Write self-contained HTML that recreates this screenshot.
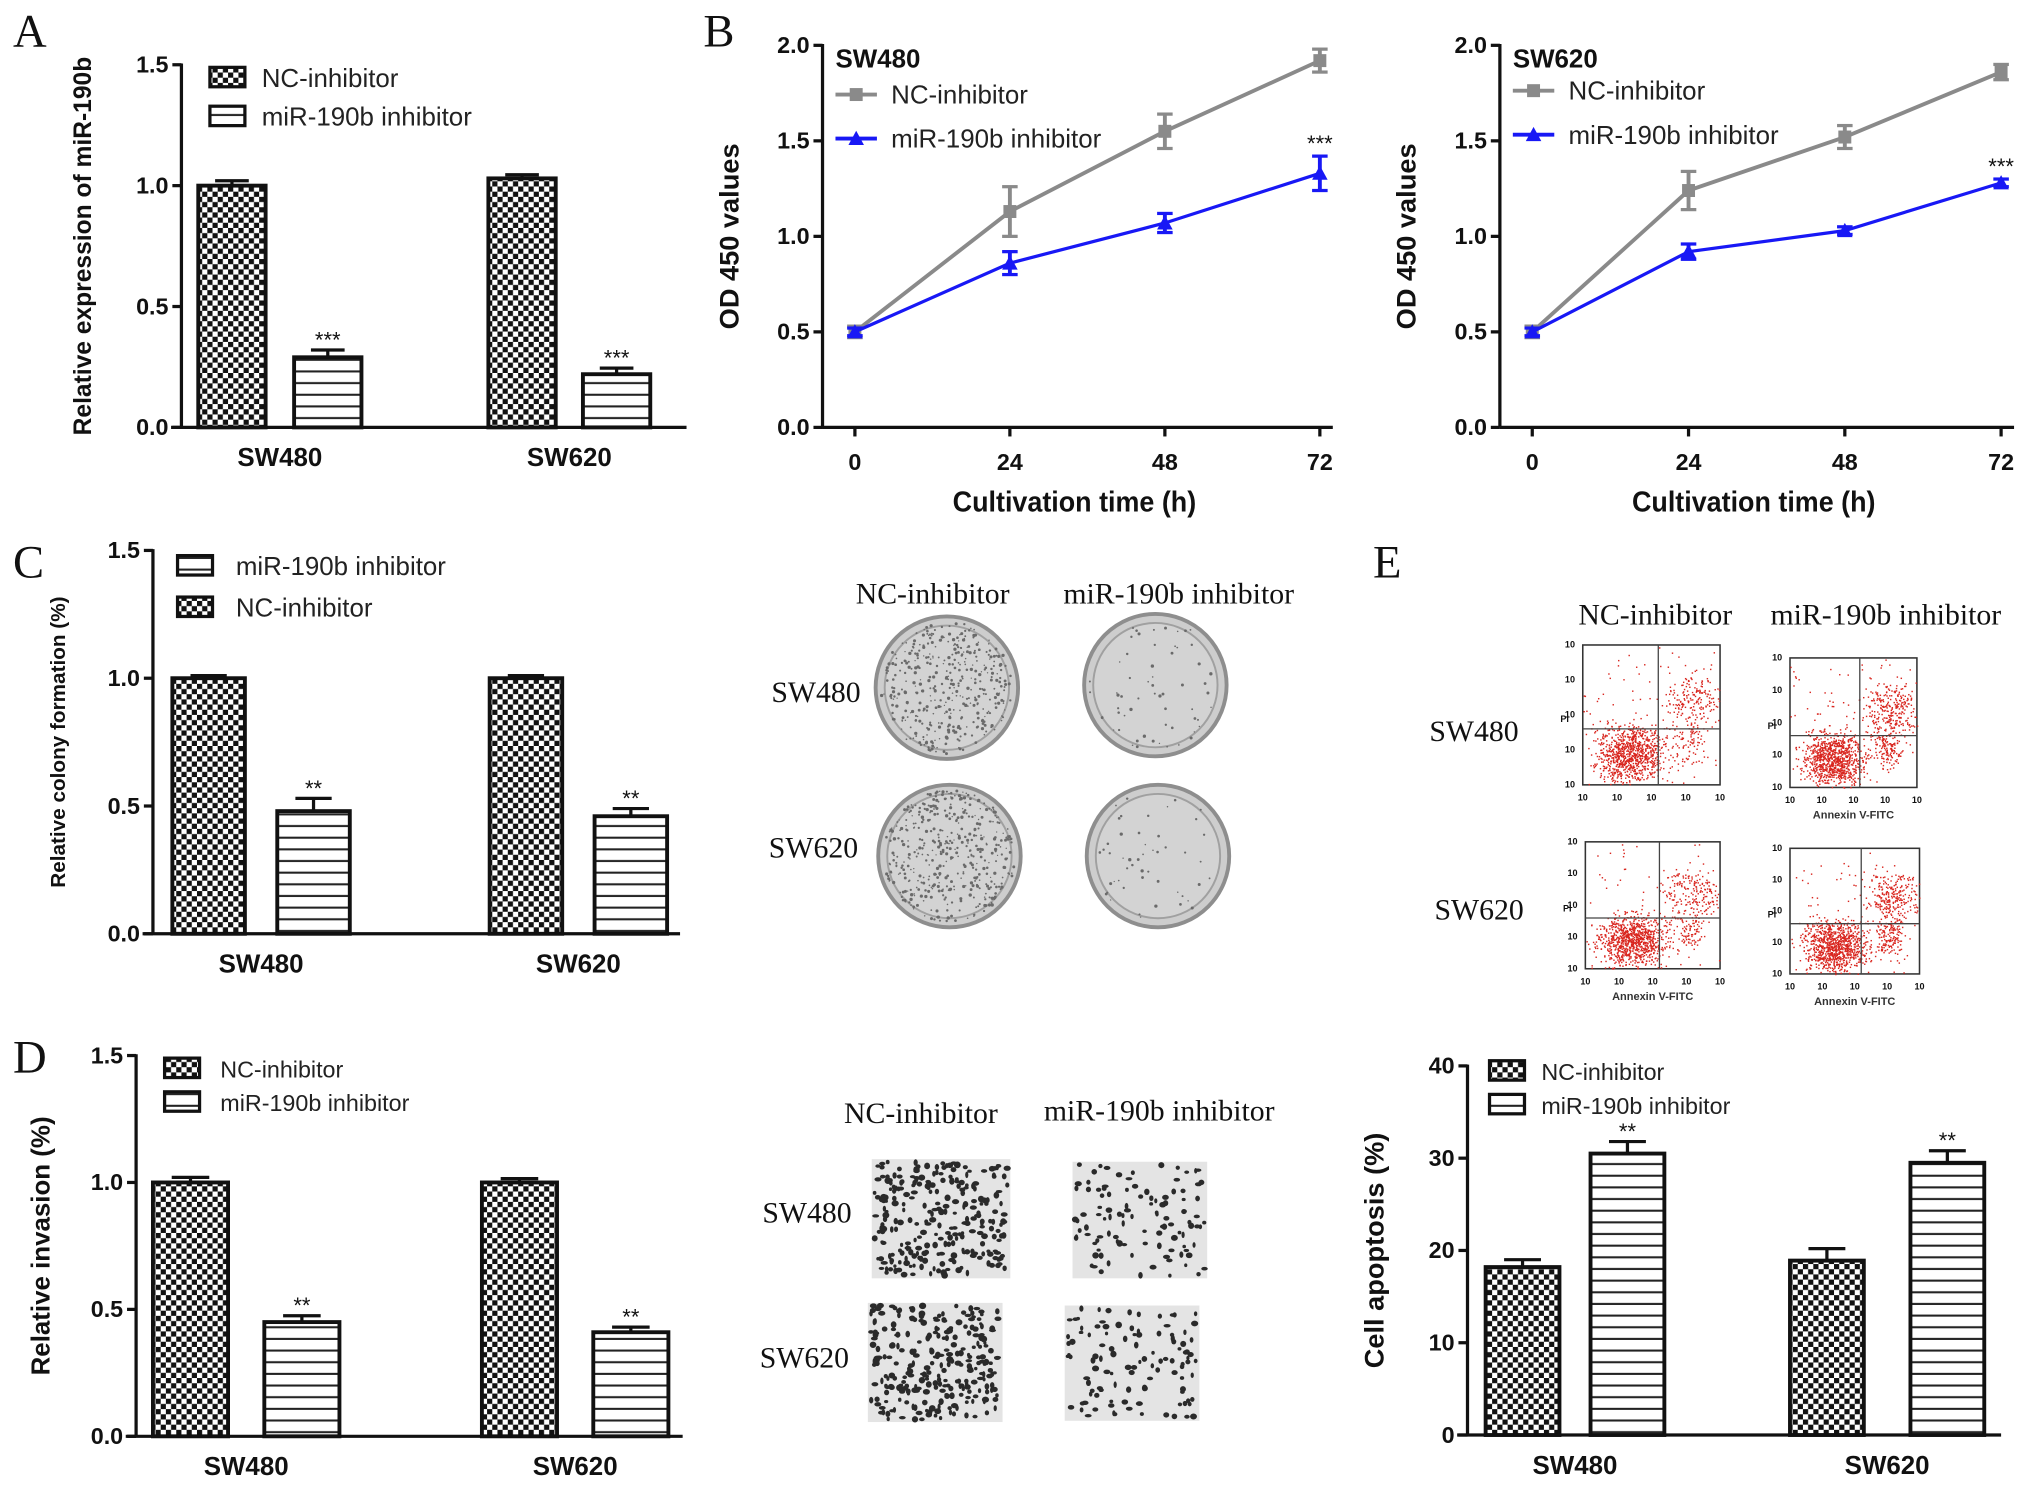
<!DOCTYPE html>
<html><head><meta charset="utf-8"><style>
html,body{margin:0;padding:0;background:#fff}
svg{display:block}
text{font-family:"Liberation Sans",sans-serif}
.serif{font-family:"Liberation Serif",serif}
</style></head><body>
<svg id="fig" width="2031" height="1492" viewBox="0 0 1568 1152" xmlns="http://www.w3.org/2000/svg">
<defs>
<pattern id="chk" width="8" height="8" patternUnits="userSpaceOnUse"><rect width="8" height="8" fill="#fff"/><rect width="4" height="4" fill="#111"/><rect x="4" y="4" width="4" height="4" fill="#111"/></pattern>
<pattern id="str" width="8" height="9" patternUnits="userSpaceOnUse"><rect width="8" height="9" fill="#fff"/><rect y="7" width="8" height="1.6" fill="#222"/></pattern>
</defs>
</svg>
<script>
// ---------- data ----------
const groups = ["SW480","SW620"];
const aNC = [1.0, 1.03], aNCerr = [0.02, 0.015];
const aMiR = [0.29, 0.22], aMiRerr = [0.03, 0.025];
const aTicks = [0, 0.5, 1.0, 1.5];
const timePts = [0, 24, 48, 72];
const timeTicks = [0, 24, 48, 72];
const odTicks = [0, 0.5, 1.0, 1.5, 2.0];
const b480NC = [0.5, 1.13, 1.55, 1.92], b480NCerr = [0.03, 0.13, 0.09, 0.06];
const b480Mi = [0.5, 0.86, 1.07, 1.33], b480MiErr = [0.02, 0.06, 0.05, 0.09];
const b620NC = [0.5, 1.24, 1.52, 1.86], b620NCerr = [0.03, 0.1, 0.06, 0.04];
const b620Mi = [0.5, 0.92, 1.03, 1.28], b620MiErr = [0.02, 0.04, 0.02, 0.02];
const cNC = [1.0, 1.0], cNCerr = [0.01, 0.01];
const cMiR = [0.48, 0.46], cMiRerr = [0.05, 0.03];
const dNC = [1.0, 1.0], dNCerr = [0.02, 0.015];
const dMiR = [0.45, 0.41], dMiRerr = [0.025, 0.02];
const eNC = [18.2, 18.9], eNCerr = [0.8, 1.3];
const eMiR = [30.5, 29.5], eMiRerr = [1.3, 1.3];
const eTicks = [0, 10, 20, 30, 40];

const NS = "http://www.w3.org/2000/svg";
const svg = document.getElementById("fig");
function mk(tag, attrs, parent, txt){
  const e = document.createElementNS(NS, tag);
  for (const k in attrs) e.setAttribute(k, attrs[k]);
  if (txt !== undefined) e.textContent = txt;
  (parent || svg).appendChild(e);
  return e;
}
function grp(name){ const g = mk("g", {});   return g; }
function label(g, x, y, t, size, name, opts){
  const o = Object.assign({"font-size": size, x: x, y: y, fill: "#111"}, opts || {});
  const e = mk("text", o, g, t);
  
  
  return e;
}
function panelLetter(x, y, t){
  const e = mk("text", {x: x, y: y, "font-size": 36, class: "serif", fill: "#111"}, svg, t);
  
  
}

// ---------- bar chart ----------
function barChart(cfg){
  const g = grp(cfg.name);
  const yS = v => cfg.y0 - (v / cfg.max) * (cfg.y0 - cfg.yTop);
  const ax = mk("line", {x1: cfg.x0, y1: cfg.yTop - 1, x2: cfg.x0, y2: cfg.y0, stroke: "#111", "stroke-width": 2.5}, g);
   
  cfg.ticks.forEach(t => {
    mk("line", {x1: cfg.x0 - 7, y1: yS(t), x2: cfg.x0, y2: yS(t), stroke: "#111", "stroke-width": 2.5}, g);
    label(g, cfg.x0 - 10, yS(t) + 6, cfg.fmt(t), 18, 'y-tick-label', {"text-anchor": "end", "font-weight": "bold"});
  });
  const xa = mk("line", {x1: cfg.x0 - 8, y1: cfg.y0, x2: cfg.xEnd, y2: cfg.y0, stroke: "#111", "stroke-width": 2.5}, g);
   
  label(g, 0, 0, cfg.ytitle, cfg.ytSize, 'y-axis-title', {"text-anchor": "middle", "font-weight": "bold", transform: `translate(${cfg.ytX},${(cfg.yTop + cfg.y0) / 2}) rotate(-90)`});
  const series = [
    {vals: cfg.nc, err: cfg.ncErr, fill: "url(#chk)", xs: cfg.ncX, key: "nc"},
    {vals: cfg.mi, err: cfg.miErr, fill: "url(#str)", xs: cfg.miX, key: "mir"}
  ];
  series.forEach(s => {
    s.vals.forEach((v, i) => {
      const x = s.xs[i], w = cfg.bw;
      const top = yS(v), et = yS(v + s.err[i]);
      mk("line", {x1: x + w / 2, y1: top, x2: x + w / 2, y2: et, stroke: "#111", "stroke-width": 2.5}, g);
      mk("line", {x1: x + w * 0.25, y1: et, x2: x + w * 0.75, y2: et, stroke: "#111", "stroke-width": 2.5}, g);
      const r = mk("rect", {x: x, y: top, width: w, height: cfg.y0 - top, fill: s.fill, stroke: "#111", "stroke-width": 3}, g);
      
      
      if (s.key === "mir" && cfg.stars) {
        label(g, x + w / 2, et - 2, cfg.stars, 17, 'significance-marker', {"text-anchor": "middle"});
      }
    });
  });
  groups.forEach((gname, i) => {
    const cx = (cfg.ncX[i] + cfg.miX[i] + cfg.bw) / 2;
    label(g, cx, cfg.y0 + 30, gname, 20, 'x-tick-label', {"text-anchor": "middle", "font-weight": "bold"});
  });
  cfg.legend.forEach((L, k) => {
    const ly = cfg.legY + k * cfg.legDy;
    const b = mk("rect", {x: cfg.legX, y: ly, width: 27, height: 15, fill: L.fill, stroke: "#111", "stroke-width": 2.5}, g);
     
    label(g, cfg.legX + cfg.legTx, ly + 15, L.text, cfg.legSize, 'legend-entry', {fill: "#222"});
  });
}
const fmt1 = t => t.toFixed(1);
const fmt0 = t => String(t);

// ---------- line chart ----------
function lineChart(cfg){
  const g = grp(cfg.name);
  const xS = t => cfg.xA + (t / 72) * (cfg.xB - cfg.xA);
  const yS = v => cfg.y0 - (v / 2) * (cfg.y0 - cfg.yTop);
  const ax = mk("line", {x1: cfg.x0, y1: cfg.yTop - 1, x2: cfg.x0, y2: cfg.y0, stroke: "#111", "stroke-width": 2.5}, g);
   
  odTicks.forEach(t => {
    mk("line", {x1: cfg.x0 - 7, y1: yS(t), x2: cfg.x0, y2: yS(t), stroke: "#111", "stroke-width": 2.5}, g);
    label(g, cfg.x0 - 10, yS(t) + 6, t.toFixed(1), 18, 'y-tick-label', {"text-anchor": "end", "font-weight": "bold"});
  });
  const xa = mk("line", {x1: cfg.x0, y1: cfg.y0, x2: cfg.xB + 10, y2: cfg.y0, stroke: "#111", "stroke-width": 2.5}, g);
   
  timeTicks.forEach(t => {
    mk("line", {x1: xS(t), y1: cfg.y0, x2: xS(t), y2: cfg.y0 + 7, stroke: "#111", "stroke-width": 2.5}, g);
    label(g, xS(t), cfg.y0 + 33, String(t), 18, 'x-tick-label', {"text-anchor": "middle", "font-weight": "bold"});
  });
  label(g, (cfg.xA + cfg.xB) / 2 - 10, cfg.y0 + 65, "Cultivation time (h)", 22, 'x-axis-title', {"text-anchor": "middle", "font-weight": "bold", textLength: 188, lengthAdjust: "spacingAndGlyphs"});
  label(g, 0, 0, "OD 450 values", 21, 'y-axis-title', {"text-anchor": "middle", "font-weight": "bold", transform: `translate(${cfg.x0 - 65},${(cfg.yTop + cfg.y0) / 2}) rotate(-90)`});
  label(g, cfg.x0 + 10, cfg.yTop + 17, cfg.title, 20, 'chart-title', {"font-weight": "bold"});
  const ser = [
    {v: cfg.nc, e: cfg.ncErr, col: "#8a8a8a", m: "sq", key: "nc"},
    {v: cfg.mi, e: cfg.miErr, col: "#1818f5", m: "tri", key: "mir"}
  ];
  ser.forEach(s => {
    const d = timePts.map((t, i) => (i ? "L" : "M") + xS(t) + "," + yS(s.v[i])).join(" ");
    const p = mk("path", {d: d, fill: "none", stroke: s.col, "stroke-width": s.m === "sq" ? 3 : 2.5}, g);
     
    timePts.forEach((t, i) => {
      const x = xS(t), y = yS(s.v[i]), e1 = yS(s.v[i] + s.e[i]), e2 = yS(s.v[i] - s.e[i]);
      mk("line", {x1: x, y1: e1, x2: x, y2: e2, stroke: s.col, "stroke-width": 3}, g);
      mk("line", {x1: x - 6, y1: e1, x2: x + 6, y2: e1, stroke: s.col, "stroke-width": 2.5}, g);
      mk("line", {x1: x - 6, y1: e2, x2: x + 6, y2: e2, stroke: s.col, "stroke-width": 2.5}, g);
      let mkEl;
      if (s.m === "sq") mkEl = mk("rect", {x: x - 5, y: y - 5, width: 10, height: 10, fill: s.col}, g);
      else mkEl = mk("path", {d: `M${x},${y - 6} L${x + 6},${y + 5} L${x - 6},${y + 5} Z`, fill: s.col}, g);
      
      
    });
  });
  label(g, xS(72), yS(cfg.mi[3] + cfg.miErr[3]) - 4, "***", 17, 'significance-marker', {"text-anchor": "middle"});
  [[cfg.legY, "#8a8a8a", "sq", "NC-inhibitor"], [cfg.legY + 34, "#1818f5", "tri", "miR-190b inhibitor"]].forEach(L => {
    const lx = cfg.x0 + 10;
    mk("line", {x1: lx, y1: L[0], x2: lx + 32, y2: L[0], stroke: L[1], "stroke-width": 3}, g);
    if (L[2] === "sq") mk("rect", {x: lx + 11, y: L[0] - 5, width: 10, height: 10, fill: L[1]}, g);
    else mk("path", {d: `M${lx + 16},${L[0] - 6} L${lx + 22},${L[0] + 5} L${lx + 10},${L[0] + 5} Z`, fill: L[1]}, g);
    label(g, lx + 43, L[0] + 7, L[3], 20, 'legend-entry', {fill: "#222"});
  });
}

// ---------- deterministic texture generator (images) ----------
let seed = 12345;
function rnd(){ seed = (seed * 1103515245 + 12345) & 0x7fffffff; return seed / 0x7fffffff; }

panelLetter(10, 36, "A");
barChart({name: "panel-a-chart", x0: 140, y0: 330, yTop: 50, max: 1.5, ticks: aTicks, fmt: fmt1, xEnd: 530,
  ytitle: "Relative expression of miR-190b", ytSize: 19, ytX: 70,
  nc: aNC, ncErr: aNCerr, mi: aMiR, miErr: aMiRerr, ncX: [153, 377], miX: [227, 450], bw: 52, stars: "***",
  legX: 162, legY: 52, legDy: 30, legTx: 40, legSize: 20,
  legend: [{fill: "url(#chk)", text: "NC-inhibitor"}, {fill: "url(#str)", text: "miR-190b inhibitor"}]});

panelLetter(543, 36, "B");
lineChart({name: "panel-b-sw480", x0: 635, y0: 330, yTop: 35, xA: 660, xB: 1019, title: "SW480", legY: 73,
  nc: b480NC, ncErr: b480NCerr, mi: b480Mi, miErr: b480MiErr});
lineChart({name: "panel-b-sw620", x0: 1158, y0: 330, yTop: 35, xA: 1183, xB: 1545, title: "SW620", legY: 70,
  nc: b620NC, ncErr: b620NCerr, mi: b620Mi, miErr: b620MiErr});

panelLetter(10, 446, "C");
barChart({name: "panel-c-chart", x0: 118, y0: 721, yTop: 425, max: 1.5, ticks: aTicks, fmt: fmt1, xEnd: 525,
  ytitle: "Relative colony formation (%)", ytSize: 16, ytX: 50,
  nc: cNC, ncErr: cNCerr, mi: cMiR, miErr: cMiRerr, ncX: [133, 378], miX: [214, 459], bw: 56, stars: "**",
  legX: 137, legY: 429, legDy: 32, legTx: 45, legSize: 20,
  legend: [{fill: "url(#str)", text: "miR-190b inhibitor"}, {fill: "url(#chk)", text: "NC-inhibitor"}]});

// colony dishes
(function(){
  const g = grp("colony-images");
  label(g, 720, 466, "NC-inhibitor", 23, 'column-label', {"text-anchor": "middle", class: "serif"});
  label(g, 910, 466, "miR-190b inhibitor", 23, 'column-label', {"text-anchor": "middle", class: "serif"});
  label(g, 630, 542, "SW480", 23, 'row-label', {"text-anchor": "middle", class: "serif"});
  label(g, 628, 662, "SW620", 23, 'row-label', {"text-anchor": "middle", class: "serif"});
  [[731, 531, 55, 420], [892, 529, 55, 60], [733, 661, 55, 450], [894, 661, 55, 50]].forEach((d, k) => {
    const c = mk("circle", {cx: d[0], cy: d[1], r: d[2], fill: "#cdcdcd", stroke: "#8e8e8e", "stroke-width": 3}, g);
     
    mk("circle", {cx: d[0], cy: d[1], r: d[2] - 7, fill: "#d3d3d3", stroke: "#a0a0a0", "stroke-width": 1.5}, g);
    for (let i = 0; i < d[3]; i++) {
      const a = rnd() * 6.283, rr = Math.sqrt(rnd()) * (d[2] - 4);
      mk("circle", {cx: d[0] + rr * Math.cos(a), cy: d[1] + rr * Math.sin(a), r: 0.5 + rnd() * 0.8, fill: "#6a6a6a"}, g);
    }
  });
})();

panelLetter(10, 828, "D");
barChart({name: "panel-d-chart", x0: 105, y0: 1109, yTop: 815, max: 1.5, ticks: aTicks, fmt: fmt1, xEnd: 527,
  ytitle: "Relative invasion (%)", ytSize: 20, ytX: 38,
  nc: dNC, ncErr: dNCerr, mi: dMiR, miErr: dMiRerr, ncX: [118, 372], miX: [204, 458], bw: 58, stars: "**",
  legX: 127, legY: 817, legDy: 26, legTx: 43, legSize: 18,
  legend: [{fill: "url(#chk)", text: "NC-inhibitor"}, {fill: "url(#str)", text: "miR-190b inhibitor"}]});

// invasion images
(function(){
  const g = grp("invasion-images");
  label(g, 711, 867, "NC-inhibitor", 23, 'column-label', {"text-anchor": "middle", class: "serif"});
  label(g, 895, 865, "miR-190b inhibitor", 23, 'column-label', {"text-anchor": "middle", class: "serif"});
  label(g, 623, 944, "SW480", 23, 'row-label', {"text-anchor": "middle", class: "serif"});
  label(g, 621, 1056, "SW620", 23, 'row-label', {"text-anchor": "middle", class: "serif"});
  [[673, 895, 107, 92, 260], [828, 897, 104, 90, 110], [670, 1006, 104, 92, 270], [822, 1008, 104, 89, 110]].forEach(d => {
    const r = mk("rect", {x: d[0], y: d[1], width: d[2], height: d[3], fill: "#e4e4e4"}, g);
     
    for (let i = 0; i < d[4]; i++) {
      mk("ellipse", {cx: d[0] + 2 + rnd() * (d[2] - 4), cy: d[1] + 2 + rnd() * (d[3] - 4), rx: 1.2 + rnd() * 1.6, ry: 1.2 + rnd() * 1.4, fill: "#2a2a2a"}, g);
    }
  });
})();

// panel E flow plots
panelLetter(1060, 446, "E");
(function(){
  const g = grp("flow-cytometry-plots");
  label(g, 1278, 482, "NC-inhibitor", 23, 'column-label', {"text-anchor": "middle", class: "serif"});
  label(g, 1456, 482, "miR-190b inhibitor", 23, 'column-label', {"text-anchor": "middle", class: "serif"});
  label(g, 1138, 572, "SW480", 23, 'row-label', {"text-anchor": "middle", class: "serif"});
  label(g, 1142, 710, "SW620", 23, 'row-label', {"text-anchor": "middle", class: "serif"});
  const plots = [[1222, 498, 106, 108, false], [1382, 508, 98, 100, true], [1224, 650, 104, 98, true], [1382, 655, 100, 97, true]];
  plots.forEach((p, k) => {
    const [x, y, w, h, lab] = p;
    const f = mk("rect", {x: x, y: y, width: w, height: h, fill: "#fff", stroke: "#333", "stroke-width": 1.2}, g);
     
    const qx = x + w * 0.55, qy = y + h * 0.6;
    const clusters = [[0.35, 0.78, 0.12, 0.1, 900], [0.8, 0.4, 0.1, 0.1, k % 2 ? 260 : 180], [0.77, 0.7, 0.06, 0.08, k % 2 ? 140 : 80], [0.5, 0.5, 0.45, 0.45, 200]];
    clusters.forEach(c => {
      for (let i = 0; i < c[4]; i++) {
        const u = (rnd() + rnd() + rnd() - 1.5) * 2 * c[2], v = (rnd() + rnd() + rnd() - 1.5) * 2 * c[3];
        const px = x + (c[0] + u) * w, py = y + (c[1] + v) * h;
        if (px > x && px < x + w && py > y && py < y + h) mk("rect", {x: px, y: py, width: 1.1, height: 1.1, fill: "#d9261f"}, g);
      }
    });
    mk("line", {x1: qx, y1: y, x2: qx, y2: y + h, stroke: "#444", "stroke-width": 1}, g);
    mk("line", {x1: x, y1: qy, x2: x + w, y2: qy, stroke: "#444", "stroke-width": 1}, g);
    for (let i = 0; i <= 4; i++) {
      label(g, x + i * w / 4, y + h + 12, "10", 7, 'x-tick-label', {"text-anchor": "middle", "font-weight": "bold"});
      label(g, x - 6, y + h - i * h / 4 + 2, "10", 7, 'y-tick-label', {"text-anchor": "end", "font-weight": "bold"});
    }
    label(g, x - 14, y + h * 0.55, "PI", 7, 'y-axis-title', {"text-anchor": "middle", "font-weight": "bold"});
    if (lab) label(g, x + w / 2, y + h + 24, "Annexin V-FITC", 8.5, 'x-axis-title', {"text-anchor": "middle", "font-weight": "bold", fill: "#333"});
  });
})();

barChart({name: "panel-e-chart", x0: 1133, y0: 1108, yTop: 823, max: 40, ticks: eTicks, fmt: fmt0, xEnd: 1545,
  ytitle: "Cell apoptosis (%)", ytSize: 21, ytX: 1068,
  nc: eNC, ncErr: eNCerr, mi: eMiR, miErr: eMiRerr, ncX: [1147, 1382], miX: [1228, 1475], bw: 57, stars: "**",
  legX: 1150, legY: 819, legDy: 26, legTx: 40, legSize: 18,
  legend: [{fill: "url(#chk)", text: "NC-inhibitor"}, {fill: "url(#str)", text: "miR-190b inhibitor"}]});
</script>
</body></html>
